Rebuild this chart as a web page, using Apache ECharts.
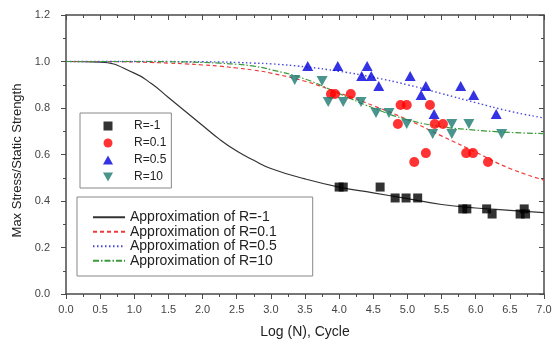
<!DOCTYPE html>
<html>
<head>
<meta charset="utf-8" />
<title></title>
<script src="https://cdn.jsdelivr.net/npm/echarts@6.0.0/dist/echarts.min.js"></script>
<style>
  body { margin: 0; background: #fff; }
  #chart { width: 553px; height: 340px; }
</style>
</head>
<body>
<div id="chart"></div>
<script>
// measured points, Log(N) vs max stress / static strength
var r1X = [4.00, 4.06, 4.60, 4.82, 4.98, 5.15, 5.81, 5.87, 6.16, 6.24, 6.65, 6.71, 6.73];
var r1Y = [0.460, 0.460, 0.460, 0.413, 0.413, 0.413, 0.366, 0.366, 0.366, 0.344, 0.344, 0.366, 0.344];

var r01X = [3.88, 3.94, 4.17, 4.90, 4.99, 5.33, 4.86, 5.40, 5.52, 5.27, 5.10, 5.86, 5.96, 6.18];
var r01Y = [0.860, 0.860, 0.860, 0.813, 0.813, 0.813, 0.731, 0.731, 0.731, 0.606, 0.568, 0.606, 0.606, 0.568];

var r05X = [3.54, 3.98, 4.41, 4.33, 4.47, 4.58, 5.04, 5.27, 5.20, 5.39, 5.78, 5.97, 6.30];
var r05Y = [0.981, 0.981, 0.981, 0.938, 0.938, 0.895, 0.938, 0.895, 0.856, 0.774, 0.895, 0.856, 0.774];

var r10X = [3.35, 3.75, 3.84, 4.06, 4.32, 4.54, 4.73, 4.99, 5.37, 5.65, 5.65, 5.90, 6.38];
var r10Y = [0.920, 0.916, 0.826, 0.826, 0.826, 0.778, 0.778, 0.731, 0.688, 0.731, 0.688, 0.731, 0.688];

// approximation curves
var curveX  = [0, 0.5, 1.0, 1.25, 1.5, 1.75, 2.0, 2.25, 2.5, 2.75, 3.0, 3.5, 4.0, 4.5, 5.0, 5.5, 6.0, 6.5, 7.0];
var fitR1   = [1.0, 0.997, 0.95, 0.905, 0.845, 0.785, 0.725, 0.665, 0.615, 0.575, 0.54, 0.495, 0.46, 0.435, 0.41, 0.385, 0.37, 0.36, 0.35];
var fitR01  = [1.0, 1.0, 0.998, 0.996, 0.993, 0.99, 0.985, 0.98, 0.972, 0.963, 0.95, 0.915, 0.865, 0.81, 0.75, 0.68, 0.61, 0.54, 0.49];
var fitR05  = [1.0, 1.0, 1.0, 1.0, 1.0, 0.999, 0.999, 0.998, 0.996, 0.993, 0.99, 0.977, 0.958, 0.932, 0.90, 0.862, 0.823, 0.786, 0.757];
var fitR10  = [1.0, 1.0, 1.0, 1.0, 0.999, 0.998, 0.996, 0.993, 0.988, 0.98, 0.965, 0.925, 0.862, 0.80, 0.75, 0.72, 0.705, 0.695, 0.69];

var font = 'Liberation Sans, Arial, sans-serif';

function pairs(xs, ys) {
    var res = [];
    for (var i = 0; i < xs.length; i++) res.push([xs[i], ys[i]]);
    return res;
}

var square = 'path://M0,0 L10,0 L10,10 L0,10 Z';
var downTri = 'path://M0,0 L10,0 L5,9 Z';
var upTri = 'path://M5,0 L10,9 L0,9 Z';

var chart = echarts.init(document.getElementById('chart'));
var frameColor = '#4a4a4a';

var option = {
    backgroundColor: '#fff',
    animation: false,
    grid: { left: 66, right: 9, top: 15, bottom: 46, outerBoundsMode: 'none' },
    legend: [{
        orient: 'vertical',
        left: 80, top: 113,
        padding: [7, 5, 5, 23],
        itemWidth: 36, itemHeight: 9, itemGap: 5,
        borderColor: '#888', borderWidth: 1,
        textStyle: { fontFamily: font, fontSize: 12, lineHeight: 12, color: '#222', padding: [0, 0, 0, 3] },
        data: [
            { name: 'R=-1', icon: square },
            { name: 'R=0.1', icon: 'circle' },
            { name: 'R=0.5', icon: upTri },
            { name: 'R=10', icon: downTri }
        ]
    }, {
        orient: 'vertical',
        left: 77, top: 197,
        padding: [13, 36, 8, 15],
        itemWidth: 32, itemHeight: 10, itemGap: 0,
        borderColor: '#888', borderWidth: 1,
        itemStyle: { opacity: 0 },
        lineStyle: { opacity: 1 },
        textStyle: { fontFamily: font, fontSize: 14, lineHeight: 14.5, color: '#222' },
        data: ['Approximation of R=-1', 'Approximation of R=0.1', 'Approximation of R=0.5', 'Approximation of R=10']
    }],
    xAxis: [{
        type: 'value', min: 0, max: 7, interval: 0.5,
        name: 'Log (N), Cycle', nameLocation: 'middle', nameGap: 31,
        nameTextStyle: { fontFamily: font, fontSize: 14, color: '#222' },
        axisLine: { onZero: false, lineStyle: { color: frameColor, width: 1.5 } },
        axisTick: { inside: false, length: 5, lineStyle: { color: frameColor } },
        minorTick: { show: true, splitNumber: 2, length: 3, lineStyle: { color: frameColor } },
        axisLabel: { fontFamily: font, fontSize: 11, color: '#444', margin: 10,
            formatter: function (v) { return v.toFixed(1); } },
        splitLine: { show: false }
    }, {
        type: 'value', position: 'top', min: 0, max: 7, interval: 0.5,
        axisLine: { onZero: false, lineStyle: { color: frameColor, width: 1.5 } },
        axisTick: { inside: true, length: 5, lineStyle: { color: frameColor } },
        minorTick: { show: true, splitNumber: 2, length: 3, lineStyle: { color: frameColor } },
        axisLabel: { show: false },
        splitLine: { show: false }
    }],
    yAxis: [{
        type: 'value', min: 0, max: 1.2, interval: 0.2,
        name: 'Max Stress/Static Strength', nameLocation: 'middle', nameGap: 39,
        nameTextStyle: { fontFamily: font, fontSize: 13, color: '#222', padding: [0, 12, 0, 0] },
        axisLine: { show: true, onZero: false, lineStyle: { color: frameColor, width: 1.5 } },
        axisTick: { show: true, inside: false, length: 5, lineStyle: { color: frameColor } },
        minorTick: { show: true, splitNumber: 2, length: 3, lineStyle: { color: frameColor } },
        axisLabel: { fontFamily: font, fontSize: 11, color: '#444', margin: 16,
            formatter: function (v) { return v.toFixed(1); } },
        splitLine: { show: false }
    }, {
        type: 'value', position: 'right', min: 0, max: 1.2, interval: 0.2,
        axisLine: { show: true, onZero: false, lineStyle: { color: frameColor, width: 1.5 } },
        axisTick: { show: true, inside: true, length: 5, lineStyle: { color: frameColor } },
        minorTick: { show: true, splitNumber: 2, length: 3, lineStyle: { color: frameColor } },
        axisLabel: { show: false },
        splitLine: { show: false }
    }],
    series: [
        { name: 'R=-1', type: 'scatter', z: 4, symbol: square, symbolSize: 9,
          itemStyle: { color: '#000' }, data: pairs(r1X, r1Y) },
        { name: 'R=0.1', type: 'scatter', z: 4, symbol: 'circle', symbolSize: 10,
          itemStyle: { color: '#ff0000' }, data: pairs(r01X, r01Y) },
        { name: 'R=0.5', type: 'scatter', z: 4, symbol: upTri, symbolSize: [11, 10],
          itemStyle: { color: '#0000dd' }, data: pairs(r05X, r05Y) },
        { name: 'R=10', type: 'scatter', z: 4, symbol: downTri, symbolSize: [11, 10],
          itemStyle: { color: '#1b7a70' }, data: pairs(r10X, r10Y) },
        { name: 'Approximation of R=-1', type: 'line', z: 2, smooth: true, symbol: 'none',
          lineStyle: { color: '#333', width: 1.2, type: 'solid' },
          itemStyle: { color: '#333' }, data: pairs(curveX, fitR1) },
        { name: 'Approximation of R=0.1', type: 'line', z: 2, smooth: true, symbol: 'none',
          lineStyle: { color: '#f03a3a', width: 1.2, type: [4, 3] },
          itemStyle: { color: '#f03a3a' }, data: pairs(curveX, fitR01) },
        { name: 'Approximation of R=0.5', type: 'line', z: 2, smooth: true, symbol: 'none',
          lineStyle: { color: '#4848dd', width: 1.4, type: [1.5, 2.5] },
          itemStyle: { color: '#4848dd' }, data: pairs(curveX, fitR05) },
        { name: 'Approximation of R=10', type: 'line', z: 2, smooth: true, symbol: 'none',
          lineStyle: { color: '#3a9a3a', width: 1.2, type: [6, 2, 1.5, 2] },
          itemStyle: { color: '#3a9a3a' }, data: pairs(curveX, fitR10) }
    ]
};
chart.setOption(option);
</script>
</body>
</html>
